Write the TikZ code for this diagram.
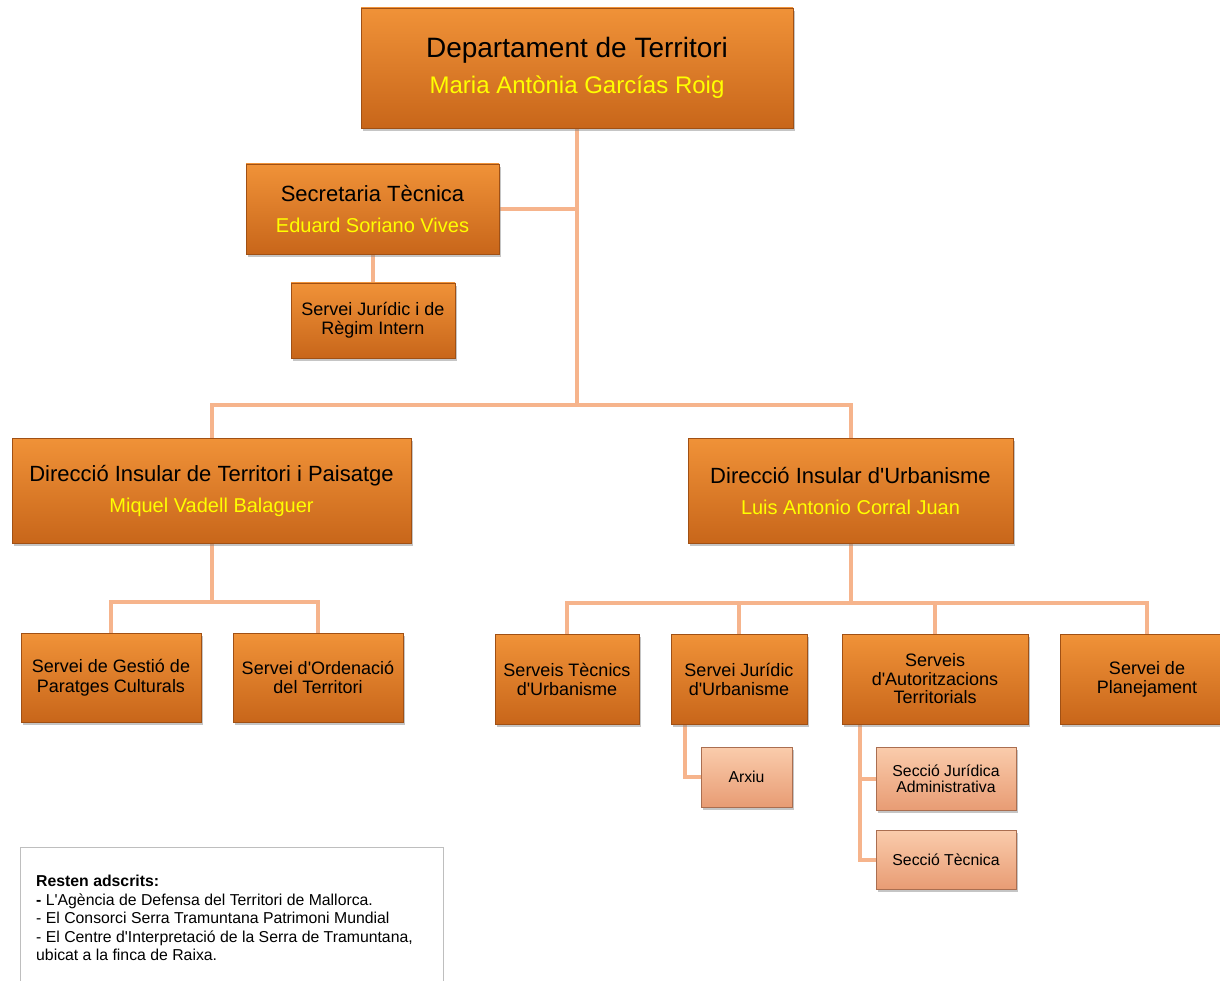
\documentclass[tikz,border=0pt]{standalone}
\usepackage{fontspec}
\setmainfont{Liberation Sans}[Ligatures=TeXOff]
\usetikzlibrary{shadows,backgrounds,calc}
\definecolor{orTop}{RGB}{240,146,56}
\definecolor{orBot}{RGB}{200,102,26}
\definecolor{orEdge}{RGB}{160,80,20}
\definecolor{ltTop}{RGB}{250,204,172}
\definecolor{ltBot}{RGB}{232,156,116}
\definecolor{ltEdge}{RGB}{170,110,80}
\definecolor{connc}{RGB}{246,180,140}
\definecolor{nameY}{RGB}{255,255,0}
\definecolor{noteEdge}{RGB}{190,190,190}
\tikzset{
  orbox/.style={rectangle, inner sep=2pt, align=center, top color=orTop, bottom color=orBot,
    draw=orEdge, line width=0.8pt, drop shadow={shadow xshift=2pt, shadow yshift=-3pt, opacity=0.45}},
  ltbox/.style={rectangle, inner sep=2pt, align=center, top color=ltTop, bottom color=ltBot,
    draw=ltEdge, line width=0.8pt, drop shadow={shadow xshift=2pt, shadow yshift=-3pt, opacity=0.45}},
  conn/.style={draw=connc, line width=4pt},
}
\begin{document}
\begin{tikzpicture}[x=1pt,y=-1pt]
\useasboundingbox (0,0) rectangle (1220,981);
\begin{scope}[on background layer]
\fill[white] (0,0) rectangle (1220,981);
\end{scope}

% main boxes
\node[orbox, minimum width=432, minimum height=120, font=\fontsize{28}{40}\selectfont] (top) at (577,68)
  {Departament de Territori\\[-4pt]{\fontsize{24}{28}\selectfont\color{nameY}Maria Antònia Garcías Roig}};
\node[orbox, minimum width=253, minimum height=90, font=\fontsize{22}{31}\selectfont] (sec) at (372.5,209)
  {Secretaria Tècnica\\{\fontsize{20}{23}\selectfont\color{nameY}Eduard Soriano Vives}};
\node[orbox, minimum width=164, minimum height=75, font=\fontsize{18}{19}\selectfont] (sj) at (373,320.5)
  {Servei Jurídic i de\\Règim Intern};
\node[orbox, minimum width=399, minimum height=105, font=\fontsize{22}{31}\selectfont] (dt) at (211.5,490.5)
  {Direcció Insular de Territori i Paisatge\\{\fontsize{20}{23}\selectfont\color{nameY}Miquel Vadell Balaguer}};
\node[orbox, minimum width=325, minimum height=105, font=\fontsize{22}{31}\selectfont] (du) at (850.5,490.5)
  {Direcció Insular d'Urbanisme\\{\fontsize{20}{23}\selectfont\color{nameY}Luis Antonio Corral Juan}};

\node[orbox, minimum width=180, minimum height=89, font=\fontsize{18}{20}\selectfont] (l1) at (111,677.5)
  {Servei de Gestió de\\Paratges Culturals};
\node[orbox, minimum width=170, minimum height=89, font=\fontsize{18}{19}\selectfont] (l2) at (318,677.5)
  {Servei d'Ordenació\\del Territori};

\node[orbox, minimum width=144, minimum height=90, font=\fontsize{18}{19}\selectfont] (r1) at (567,679)
  {Serveis Tècnics\\d'Urbanisme};
\node[orbox, minimum width=136, minimum height=90, font=\fontsize{18}{19}\selectfont] (r2) at (739,679)
  {Servei Jurídic\\d'Urbanisme};
\node[orbox, minimum width=186, minimum height=90, font=\fontsize{18}{18.5}\selectfont] (r3) at (935,679)
  {Serveis\\d'Autoritzacions\\Territorials};
\node[orbox, minimum width=174, minimum height=90, font=\fontsize{18}{19}\selectfont] (r4) at (1147,679)
  {Servei de\\Planejament};

\node[ltbox, minimum width=91, minimum height=60, font=\fontsize{15.8}{17}\selectfont] (arxiu) at (746.5,777) {Arxiu};
\node[ltbox, minimum width=140, minimum height=63, font=\fontsize{15.8}{16}\selectfont] (sja) at (946,778.5)
  {Secció Jurídica\\Administrativa};
\node[ltbox, minimum width=140, minimum height=59, font=\fontsize{15.8}{17}\selectfont] (st) at (946,859.5) {Secció Tècnica};

% connectors
\coordinate (hub) at (577,405);
\coordinate (lh) at (211.5,602);
\coordinate (rh) at (850.5,603);
\begin{scope}[on background layer]
\draw[conn] (top.south) -- (hub);
\draw[conn] (sec.east) -- (sec.east -| top.south);
\draw[conn] (sec.south -| sj.north) -- (sj.north);
\draw[conn] (dt.north) |- (hub) -| (du.north);
\draw[conn] (dt.south) -- (lh);
\draw[conn] (l1.north) |- (lh) -| (l2.north);
\draw[conn] (du.south) -- (rh);
\draw[conn] (r1.north) |- (rh) -| (r4.north);
\draw[conn] (r2.north) -- (r2.north |- rh);
\draw[conn] (r3.north) -- (r3.north |- rh);
\coordinate (r2s) at ($(r2.south west)+(14,0)$);
\draw[conn] (r2s) |- (arxiu.west);
\coordinate (r3s) at ($(r3.south west)+(18,0)$);
\draw[conn] (r3s) |- (sja.west);
\draw[conn] (r3s) |- (st.west);
\end{scope}

% notes
\draw[noteEdge, line width=1pt] (20,990) -- (20,847) -- (443,847) -- (443,990);
\node[anchor=north west, align=left, inner sep=0pt, font=\fontsize{15.8}{18.5}\selectfont] (notes) at (36,875)
  {\textbf{Resten adscrits:}\\
   \textbf{-} L'Agència de Defensa del Territori de Mallorca.\\
   - El Consorci Serra Tramuntana Patrimoni Mundial\\
   - El Centre d'Interpretació de la Serra de Tramuntana,\\
   ubicat a la finca de Raixa.};
\end{tikzpicture}
\end{document}
